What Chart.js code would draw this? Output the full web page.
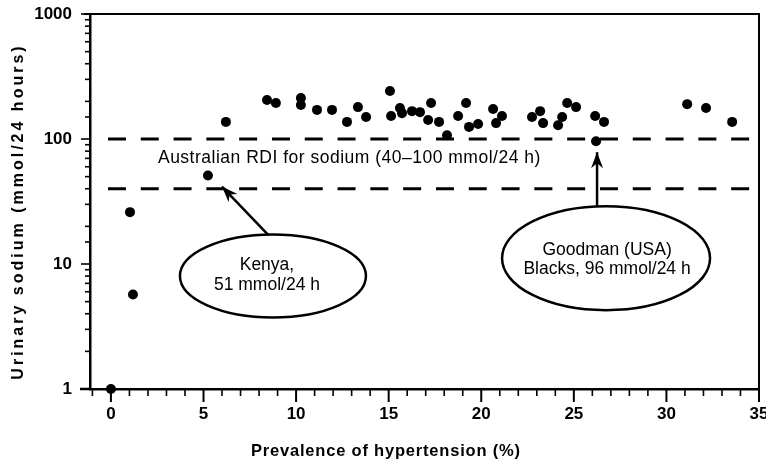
<!DOCTYPE html>
<html><head><meta charset="utf-8">
<script src="https://cdn.jsdelivr.net/npm/chart.js@4"></script>
<style>html,body{margin:0;padding:0;background:#fff}</style>
</head><body>
<canvas id="c" width="766" height="463"></canvas>
<script>
// ---- data ----
const prevalence = [0, 1.03, 1.19, 5.24, 6.21, 8.43, 8.91, 10.26, 10.26, 11.13, 11.94, 12.75, 13.34, 13.78,
  15.07, 15.13, 15.61, 15.72, 16.26, 16.69, 17.29, 17.13, 17.72, 18.15, 18.75, 19.18, 19.34, 19.83,
  20.64, 21.12, 20.8, 22.74, 23.18, 23.34, 24.15, 24.37, 24.64, 25.12, 26.15, 26.63, 26.2, 31.12, 32.14, 33.55];
const sodium = [1, 26, 5.7, 51, 137, 205, 194, 213, 187, 171, 171, 137, 180, 150,
  242, 153, 177, 161, 167, 164, 194, 142, 137, 107, 153, 194, 125, 132,
  174, 153, 134, 150, 167, 134, 129, 150, 194, 180, 153, 137, 96, 190, 177, 137];
const rdiBounds = [40, 100];
const yTickLabels = [1, 10, 100, 1000];
const xTickLabels = [0, 5, 10, 15, 20, 25, 30, 35];
const xRange = [-1.13, 35];
const yRange = [1, 1000];
const rdiLabel = 'Australian RDI for sodium (40\u2013100 mmol/24 h)';
const kenyaIndex = 3, kenyaLabel = ['Kenya,', '51 mmol/24 h'];
const goodmanIndex = 40, goodmanLabel = ['Goodman (USA)', 'Blacks, 96 mmol/24 h'];
const xTitle = 'Prevalence of hypertension (%)';
const yTitle = 'Urinary sodium (mmol/24 hours)';

const points = prevalence.map((p, i) => ({x: p, y: sodium[i]}));
const dashStart = -0.16;
const rdiLines = rdiBounds.map(v => ({
  type: 'line', data: [{x: dashStart, y: v}, {x: xRange[1], y: v}],
  borderColor: '#000', borderWidth: 3, borderDash: [18, 14.8], pointRadius: 0, fill: false, order: 2, clip: false
}));

const FONT = '"Liberation Sans", Arial, Helvetica, sans-serif';

function arrow(ctx, x1, y1, x2, y2) {
  ctx.beginPath(); ctx.moveTo(x1, y1); ctx.lineTo(x2, y2); ctx.stroke();
  const ang = Math.atan2(y2 - y1, x2 - x1);
  const L = 16, W = 6, N = 11;
  const bx = Math.cos(ang), by = Math.sin(ang), nx = -by, ny = bx;
  ctx.beginPath();
  ctx.moveTo(x2, y2);
  ctx.lineTo(x2 - bx * L + nx * W, y2 - by * L + ny * W);
  ctx.lineTo(x2 - bx * N, y2 - by * N);
  ctx.lineTo(x2 - bx * L - nx * W, y2 - by * L - ny * W);
  ctx.closePath(); ctx.fill();
}

const decor = {
  id: 'decor',
  beforeDraw(chart) {
    const ctx = chart.ctx; ctx.save(); ctx.fillStyle = '#fff';
    ctx.fillRect(0, 0, chart.width, chart.height); ctx.restore();
  },
  afterDraw(chart) {
    const {ctx, chartArea: a, scales: {x, y}} = chart;
    ctx.save();
    ctx.strokeStyle = '#000'; ctx.fillStyle = '#000'; ctx.lineCap = 'butt';
    // frame: top and right
    ctx.lineWidth = 2;
    ctx.beginPath(); ctx.moveTo(a.left - 6, a.top); ctx.lineTo(a.right, a.top); ctx.lineTo(a.right, a.bottom); ctx.stroke();
    // bottom axis extension to the left
    ctx.lineWidth = 2.5;
    ctx.beginPath(); ctx.moveTo(a.left - 10, a.bottom); ctx.lineTo(a.left, a.bottom); ctx.stroke();
    // y ticks
    ctx.lineWidth = 1.6;
    y.ticks.forEach(t => {
      const lg = Math.log10(t.value);
      const major = Math.abs(lg - Math.round(lg)) < 1e-9;
      const py = y.getPixelForValue(t.value);
      ctx.beginPath(); ctx.moveTo(a.left, py); ctx.lineTo(a.left - (major ? 9 : 5), py); ctx.stroke();
    });
    // x ticks
    x.ticks.forEach(t => {
      if (Math.abs(t.value - Math.round(t.value)) > 1e-9) return;
      const px = x.getPixelForValue(t.value);
      const major = Math.round(t.value) % 5 === 0;
      ctx.lineWidth = major ? 2 : 1.6;
      ctx.beginPath(); ctx.moveTo(px, a.bottom); ctx.lineTo(px, a.bottom + (major ? 13 : 7)); ctx.stroke();
    });
    // axis titles
    ctx.textAlign = 'center'; ctx.textBaseline = 'middle';
    ctx.font = 'bold 16.5px ' + FONT;
    ctx.letterSpacing = '0.8px';
    ctx.fillText(xTitle, x.getPixelForValue(14.85), a.bottom + 62);
    ctx.save();
    ctx.translate(18.5, (a.top + a.bottom) / 2 + 10);
    ctx.rotate(-Math.PI / 2);
    ctx.font = 'bold 16px ' + FONT;
    ctx.letterSpacing = '3px';
    ctx.fillText(yTitle, 0, 0);
    ctx.restore();
    // RDI label
    ctx.letterSpacing = '0.5px';
    ctx.font = '17.5px ' + FONT;
    ctx.textAlign = 'left'; ctx.textBaseline = 'alphabetic';
    ctx.fillText(rdiLabel, x.getPixelForValue(2.54), y.getPixelForValue(rdiBounds[1]) + 24);
    // callouts
    ctx.letterSpacing = '0px';
    ctx.textAlign = 'center';
    ctx.lineWidth = 2.5;
    const kx = x.getPixelForValue(prevalence[kenyaIndex]), ky = y.getPixelForValue(sodium[kenyaIndex]);
    ctx.beginPath(); ctx.ellipse(kx + 65, ky + 100.5, 93, 41.5, 0, 0, Math.PI * 2); ctx.stroke();
    arrow(ctx, kx + 60, ky + 59, kx + 14, ky + 11);
    ctx.fillText(kenyaLabel[0], kx + 59, ky + 94.5);
    ctx.fillText(kenyaLabel[1], kx + 59, ky + 114);
    const gx = x.getPixelForValue(prevalence[goodmanIndex]), gy = y.getPixelForValue(sodium[goodmanIndex]);
    ctx.beginPath(); ctx.ellipse(gx + 10, gy + 117, 104, 52, 0, 0, Math.PI * 2); ctx.stroke();
    arrow(ctx, gx + 1, gy + 65, gx + 1, gy + 11);
    ctx.fillText(goodmanLabel[0], gx + 11, gy + 113.5);
    ctx.fillText(goodmanLabel[1], gx + 11, gy + 133);
    ctx.restore();
  }
};

new Chart(document.getElementById('c'), {
  type: 'scatter',
  data: {
    datasets: [
      {type: 'scatter', data: points, backgroundColor: '#000', borderWidth: 0, pointRadius: 5,
       pointHoverRadius: 5, order: 1, clip: false},
      ...rdiLines
    ]
  },
  options: {
    responsive: false, animation: false, devicePixelRatio: 1,
    layout: {padding: {top: 14, right: 7, left: 0, bottom: 0}},
    plugins: {legend: {display: false}, tooltip: {enabled: false}},
    scales: {
      x: {
        type: 'linear', min: xRange[0], max: xRange[1],
        grid: {display: false, drawTicks: false},
        border: {display: true, color: '#000', width: 2.5},
        ticks: {stepSize: 1, autoSkip: false, includeBounds: false, maxRotation: 0, color: '#000', padding: 15,
          font: {family: FONT, size: 17, weight: 'bold'},
          callback: v => xTickLabels.includes(v) ? String(v) : ''},
        afterFit: s => { s.height = 74; s.paddingLeft = 0; s.paddingRight = 0; }
      },
      y: {
        type: 'logarithmic', min: yRange[0], max: yRange[1],
        grid: {display: false, drawTicks: false},
        border: {display: true, color: '#000', width: 2.5},
        ticks: {autoSkip: false, color: '#000', padding: 18,
          font: {family: FONT, size: 17, weight: 'bold'},
          callback: v => yTickLabels.includes(v) ? String(v) : ''},
        afterFit: s => { s.width = 90; s.paddingTop = 0; s.paddingBottom = 0; }
      }
    }
  },
  plugins: [decor]
});
</script>
</body></html>
